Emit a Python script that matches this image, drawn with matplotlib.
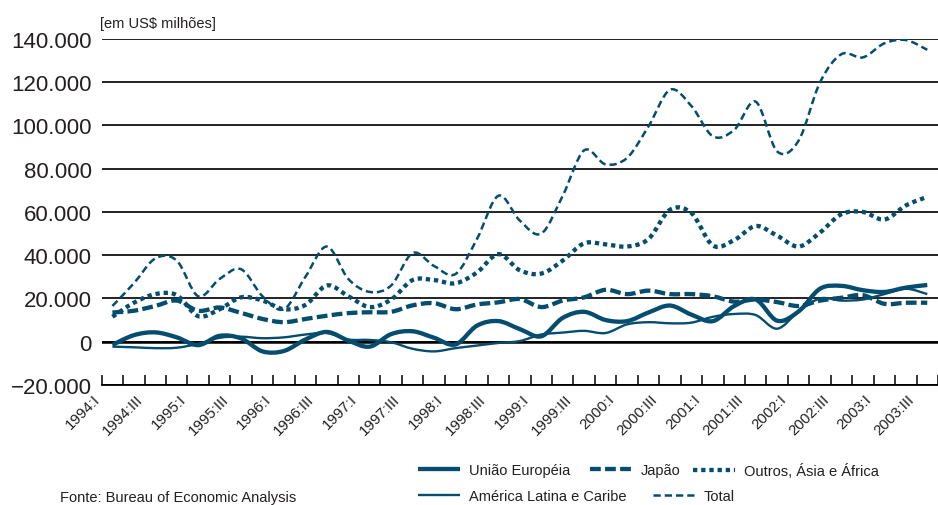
import matplotlib
matplotlib.use("Agg")
import matplotlib.pyplot as plt
import numpy as np
from matplotlib import font_manager
from matplotlib.path import Path
from matplotlib.patches import PathPatch
from matplotlib.lines import Line2D
from matplotlib.transforms import ScaledTranslation

plt.rcParams["font.family"] = ["Liberation Sans", "DejaVu Sans"]

quarters = [
    "1994:I", "1994:II", "1994:III", "1994:IV", "1995:I", "1995:II", "1995:III", "1995:IV",
    "1996:I", "1996:II", "1996:III", "1996:IV", "1997:I", "1997:II", "1997:III", "1997:IV",
    "1998:I", "1998:II", "1998:III", "1998:IV", "1999:I", "1999:II", "1999:III", "1999:IV",
    "2000:I", "2000:II", "2000:III", "2000:IV", "2001:I", "2001:II", "2001:III", "2001:IV",
    "2002:I", "2002:II", "2002:III", "2002:IV", "2003:I", "2003:II", "2003:III",
]

# US$ milhões
uniao_europeia = [-1500, 3000, 4300, 2000, -1600, 2700, 1500, -4500, -4300, 1000, 4500, 500,
                  -2300, 3500, 4800, 1800, -1300, 7400, 9500, 5800, 2500, 11000, 13800, 10000,
                  9500, 13500, 16700, 12500, 9500, 16500, 19500, 9700, 14000, 24500, 25800,
                  23800, 23000, 25000, 26200]
japao = [13500, 14300, 16500, 19000, 14300, 15800, 13300, 10500, 9000, 10500, 12000, 13200,
         13600, 13800, 16800, 17800, 15000, 17200, 18200, 19700, 16000, 19000, 20500, 24000,
         22000, 23600, 22000, 22000, 21000, 18500, 19500, 18300, 16500, 19000, 20300, 21500,
         17500, 18000, 18000]
outros_asia_africa = [11500, 18000, 22000, 21500, 11800, 15000, 20500, 19000, 15000, 17000,
                      26000, 21000, 16000, 19500, 28500, 28500, 27000, 32000, 40500, 33000,
                      31500, 37500, 45500, 45000, 44000, 47500, 61000, 59500, 44500, 47000,
                      53500, 49000, 44000, 50500, 59000, 60000, 56500, 63000, 67000]
america_latina = [-2300, -2600, -3000, -2800, -1000, 1800, 2300, 1600, 2000, 3300, 4000, 1000,
                  800, -300, -3300, -4500, -3000, -1800, -600, 300, 3300, 4200, 5000, 4000,
                  8000, 9000, 8500, 8800, 11500, 12800, 12300, 6000, 14000, 20000, 19000,
                  19500, 22000, 24500, 22000]
total = [16500, 27000, 38500, 37500, 21000, 29000, 33500, 21000, 15000, 30000, 44000, 29000,
         23000, 26000, 41000, 35000, 31300, 47500, 67500, 56000, 50000, 67500, 88500, 82000,
         85000, 99600, 116500, 109000, 95000, 98000, 111000, 88000, 93000, 120000, 133000,
         131500, 138000, 139500, 135000]

yticks = [-20000, 0, 20000, 40000, 60000, 80000, 100000, 120000, 140000]
ytick_labels = ["\u221220.000", "0", "20.000", "40.000", "60.000", "80.000",
                "100.000", "120.000", "140.000"]

COLOR = "#054d6e"
TXT = "#231f20"

# condensed face for the small texts if it is there
installed = {f.name for f in font_manager.fontManager.ttflist}
if "Liberation Sans Narrow" in installed:
    small_font, xtick_size, legend_size = "Liberation Sans Narrow", 12, 12.5
else:
    small_font, xtick_size, legend_size = "Liberation Sans", 10.8, 10.5


def smooth_path(xs, ys):
    # smoothed line like the spreadsheet chart: cubic Bezier through every point
    pts = np.column_stack([xs, ys]).astype(float)
    ext = np.vstack([pts[0], pts, pts[-1]])
    verts = [pts[0]]
    codes = [Path.MOVETO]
    for i in range(len(pts) - 1):
        p0, p1, p2, p3 = ext[i], ext[i + 1], ext[i + 2], ext[i + 3]
        verts += [p1 + (p2 - p0) / 6, p2 - (p3 - p1) / 6, p2]
        codes += [Path.CURVE4] * 3
    return Path(verts, codes)


series = [
    ("União Européia", uniao_europeia, 3.1, "-"),
    ("Japão", japao, 3.1, (0, (2.5, 1.0))),
    ("Outros, Ásia e África", outros_asia_africa, 3.1, (0, (1.0, 0.9))),
    ("América Latina e Caribe", america_latina, 1.7, "-"),
    ("Total", total, 1.8, (0, (2.9, 1.6))),
]

W, H = 938, 506
fig = plt.figure(figsize=(W / 100, H / 100), dpi=100)
ax = fig.add_axes([101.7 / W, (H - 385.9) / H, (W - 101.7) / W, (385.9 - 40) / H])

x = np.arange(len(quarters))
handles = {}
for label, vals, lw, ls in series:
    patch = PathPatch(smooth_path(x, vals), fill=False, edgecolor=COLOR, lw=lw,
                      linestyle=ls, capstyle="butt", joinstyle="round", zorder=3)
    ax.add_patch(patch)
    handles[label] = Line2D([], [], color=COLOR, lw=lw, linestyle=ls,
                            dash_capstyle="butt", solid_capstyle="butt")

ax.set_xlim(-0.5, len(quarters) - 0.5)
ax.set_ylim(-20000, 140000)

ax.set_yticks(yticks)
ax.set_yticklabels(ytick_labels)
ax.tick_params(axis="y", length=0, pad=7, labelsize=16, labelcolor=TXT)
ax.yaxis.grid(True, color="#111111", lw=1.3)
ax.axhline(0, color="black", lw=1.8, zorder=2)
ax.set_axisbelow(True)

ax.set_xticks(x[::2])
ax.set_xticklabels(quarters[::2], rotation=45, ha="right", fontsize=xtick_size,
                   color=TXT, family=small_font)
ax.set_xticks(np.arange(-0.5, len(quarters), 1), minor=True)
ax.tick_params(axis="x", which="major", length=0, pad=5)
ax.tick_params(axis="x", which="minor", direction="in", length=7, width=1.1, color="black")
shift = ScaledTranslation(-0.1, 0, fig.dpi_scale_trans)
for lbl in ax.get_xticklabels():
    lbl.set_transform(lbl.get_transform() + shift)

for side in ("left", "right", "top"):
    ax.spines[side].set_visible(False)
ax.spines["bottom"].set_linewidth(1.3)
ax.spines["bottom"].set_color("black")

fig.text(100 / W, 1 - 31 / H, "[em US$ milhões]", fontsize=10.5, color=TXT,
         ha="left", va="bottom")

# legend entries placed one by one, as in the original layout
legend_pos = [
    ("União Européia", 418, 471.5),
    ("Japão", 590, 471.5),
    ("Outros, Ásia e África", 693, 471.5),
    ("América Latina e Caribe", 418, 497.5),
    ("Total", 653, 497.5),
]
for label, px, py in legend_pos:
    fig.legend(handles=[handles[label]], labels=[label], loc="center left",
               bbox_to_anchor=(px / W, 1 - py / H), frameon=False, borderpad=0,
               borderaxespad=0, handlelength=42 * 0.72 / legend_size, handletextpad=0.6,
               prop={"family": small_font, "size": legend_size}, labelcolor=TXT)

fig.text(60 / W, 1 - 505 / H, "Fonte: Bureau of Economic Analysis", fontsize=10.5,
         color=TXT, ha="left", va="bottom")

fig.savefig("out.png", dpi=100)
